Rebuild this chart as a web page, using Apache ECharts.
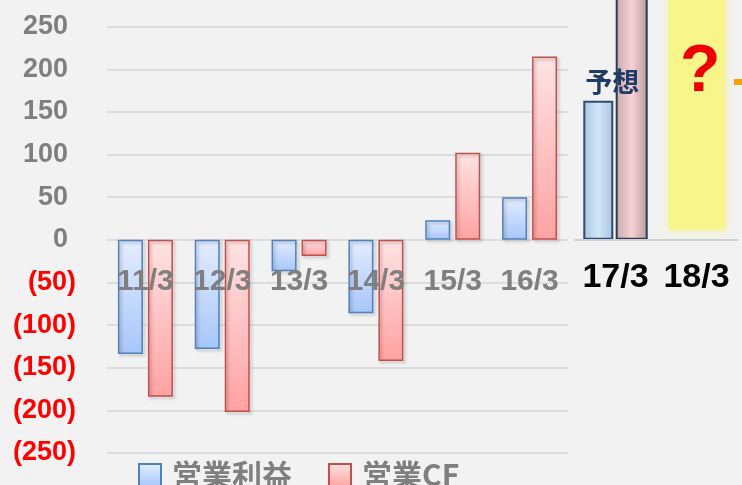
<!DOCTYPE html>
<html>
<head>
<meta charset="utf-8">
<script src="https://cdn.jsdelivr.net/npm/echarts@6/dist/echarts.min.js"></script>
<style>
  html, body { margin: 0; padding: 0; background: #f2f2f2; }
  #chart { width: 742px; height: 485px; }
</style>
</head>
<body>
<div id="chart"></div>
<script>
// actual years
const categories = ["11/3", "12/3", "13/3", "14/3", "15/3", "16/3"];
const profit = [-134, -128, -37, -86, 23, 50];
const cashFlow = [-184, -202, -19, -142, 102, 215];
// forecast block
const forecastCategories = ["17/3", "18/3"];
const profitForecast = [163, null];
const cashFlowForecast = [295, null];
const highlightBase = [null, 12];
const highlightBand = [null, 288];
const yTicks = { min: -250, max: 300, interval: 50 };

const grey = "#7f7f7f";
const font = "'Liberation Sans', 'Noto Sans CJK JP', sans-serif";
// the category labels sit under the zero line, not under the plot
const zeroOffset = -213;

function grad(top, bottom) {
  return new echarts.graphic.LinearGradient(0, 0, 0, 1, [
    { offset: 0, color: top },
    { offset: 1, color: bottom }
  ]);
}

let myChart = echarts.init(document.getElementById("chart"));
myChart.setOption({
  backgroundColor: "#f2f2f2",
  animation: false,
  legend: {
    data: ["営業利益", "営業CF"],
    icon: "rect",
    left: 133,
    top: 455,
    itemWidth: 22,
    itemHeight: 22,
    itemGap: 36,
    textStyle: {
      color: grey,
      fontSize: 30,
      fontWeight: "bold",
      fontFamily: "'Noto Sans CJK JP', sans-serif",
      padding: [0, 0, 0, 6]
    }
  },
  grid: [
    { left: 107, right: 174, top: -16, bottom: 32, outerBoundsMode: "none" },
    { left: 575, right: 5, top: -16, bottom: 32, outerBoundsMode: "none" }
  ],
  xAxis: [
    {
      type: "category",
      gridIndex: 0,
      data: categories,
      offset: zeroOffset,
      z: 5,
      axisLine: { show: false, onZero: false },
      axisTick: { show: false },
      axisLabel: {
        interval: 0,
        margin: 27,
        color: grey,
        fontSize: 30,
        fontWeight: "bold",
        fontFamily: font
      }
    },
    {
      type: "category",
      gridIndex: 1,
      data: forecastCategories,
      offset: zeroOffset,
      axisLine: { show: true, onZero: false, lineStyle: { color: "#d0d0d0", width: 2 } },
      axisTick: { show: false },
      axisLabel: {
        interval: 0,
        hideOverlap: false,
        margin: 21,
        color: "#000",
        fontSize: 34,
        fontWeight: "bold",
        fontFamily: font
      },
      z: 5
    },
    {
      type: "category",
      gridIndex: 1,
      data: forecastCategories,
      show: false
    }
  ],
  yAxis: [
    {
      type: "value",
      gridIndex: 0,
      min: yTicks.min,
      max: yTicks.max,
      interval: yTicks.interval,
      axisLine: { show: false },
      axisTick: { show: false },
      splitLine: { lineStyle: { color: "#d6d6d6", width: 1.5 } },
      axisLabel: {
        margin: 31,
        fontSize: 27,
        fontWeight: "bold",
        fontFamily: font,
        formatter: function (v) {
          if (v < 0) return "{neg|(" + (-v) + ")}";
          return "{pos|" + v + "}";
        },
        rich: {
          neg: { color: "#ff0000", fontSize: 27, fontWeight: "bold", fontFamily: font },
          pos: { color: grey, fontSize: 27, fontWeight: "bold", fontFamily: font, padding: [0, 8, 0, 0] }
        }
      }
    },
    {
      type: "value",
      gridIndex: 1,
      min: yTicks.min,
      max: yTicks.max,
      interval: yTicks.interval,
      show: false,
      splitLine: { show: false }
    }
  ],
  series: [
    {
      name: "営業利益",
      type: "bar",
      xAxisIndex: 0,
      yAxisIndex: 0,
      barWidth: 25,
      barGap: "20%",
      data: profit,
      itemStyle: {
        color: grad("#e3edff", "#a7c6fa"),
        borderColor: "#4f81bd",
        borderWidth: 1.5,
        shadowBlur: 3,
        shadowOffsetX: 2,
        shadowOffsetY: 2,
        shadowColor: "rgba(0,0,0,0.25)"
      }
    },
    {
      name: "営業CF",
      type: "bar",
      xAxisIndex: 0,
      yAxisIndex: 0,
      barWidth: 25,
      data: cashFlow,
      itemStyle: {
        color: grad("#ffe3e3", "#ffa2a2"),
        borderColor: "#c0504d",
        borderWidth: 1.5,
        shadowBlur: 3,
        shadowOffsetX: 2,
        shadowOffsetY: 2,
        shadowColor: "rgba(0,0,0,0.25)"
      }
    },
    {
      name: "営業利益(予想)",
      type: "bar",
      xAxisIndex: 1,
      yAxisIndex: 1,
      barWidth: 30,
      barGap: "8%",
      z: 4,
      data: profitForecast,
      itemStyle: {
        color: new echarts.graphic.LinearGradient(0, 0, 1, 0, [
          { offset: 0, color: "#a9c3df" },
          { offset: 0.5, color: "#d3e6fa" },
          { offset: 1, color: "#a9c3df" }
        ]),
        borderColor: "#2f4b6e",
        borderWidth: 2
      },
      label: {
        show: true,
        position: "top",
        distance: 6,
        offset: [14, 0],
        formatter: "予想",
        color: "#1f3c66",
        fontSize: 27,
        fontWeight: "bold",
        fontFamily: "'Noto Sans CJK JP', sans-serif"
      }
    },
    {
      name: "営業CF(予想)",
      type: "bar",
      xAxisIndex: 1,
      yAxisIndex: 1,
      barWidth: 32,
      z: 3,
      data: cashFlowForecast,
      itemStyle: {
        color: new echarts.graphic.LinearGradient(0, 0, 1, 0, [
          { offset: 0, color: "#c9a9ae" },
          { offset: 0.5, color: "#f5d2d6" },
          { offset: 1, color: "#b89a9f" }
        ]),
        borderColor: "#2f3b4e",
        borderWidth: 2
      }
    },
    {
      name: "base",
      type: "bar",
      xAxisIndex: 2,
      yAxisIndex: 1,
      stack: "hl",
      barWidth: 56,
      silent: true,
      z: 1,
      data: highlightBase,
      itemStyle: { color: "transparent" }
    },
    {
      name: "band",
      type: "bar",
      xAxisIndex: 2,
      yAxisIndex: 1,
      stack: "hl",
      barWidth: 52,
      silent: true,
      z: 1,
      data: highlightBand,
      itemStyle: {
        color: "#f8f58a",
        shadowBlur: 8,
        shadowColor: "#f8f58a"
      }
    }
  ],
  graphic: [
    {
      type: "text",
      left: 680,
      top: 40,
      z: 10,
      style: {
        text: "?",
        fill: "#ee0000",
        fontSize: 66,
        fontWeight: "bold",
        fontFamily: font,
        shadowBlur: 4,
        shadowOffsetX: 2,
        shadowOffsetY: 2,
        shadowColor: "rgba(0,0,0,0.3)"
      }
    },
    {
      type: "rect",
      left: 734,
      top: 79,
      z: 10,
      shape: { width: 8, height: 6 },
      style: { fill: "#f5a300" }
    }
  ]
});
myChart.resize();
</script>
</body>
</html>
